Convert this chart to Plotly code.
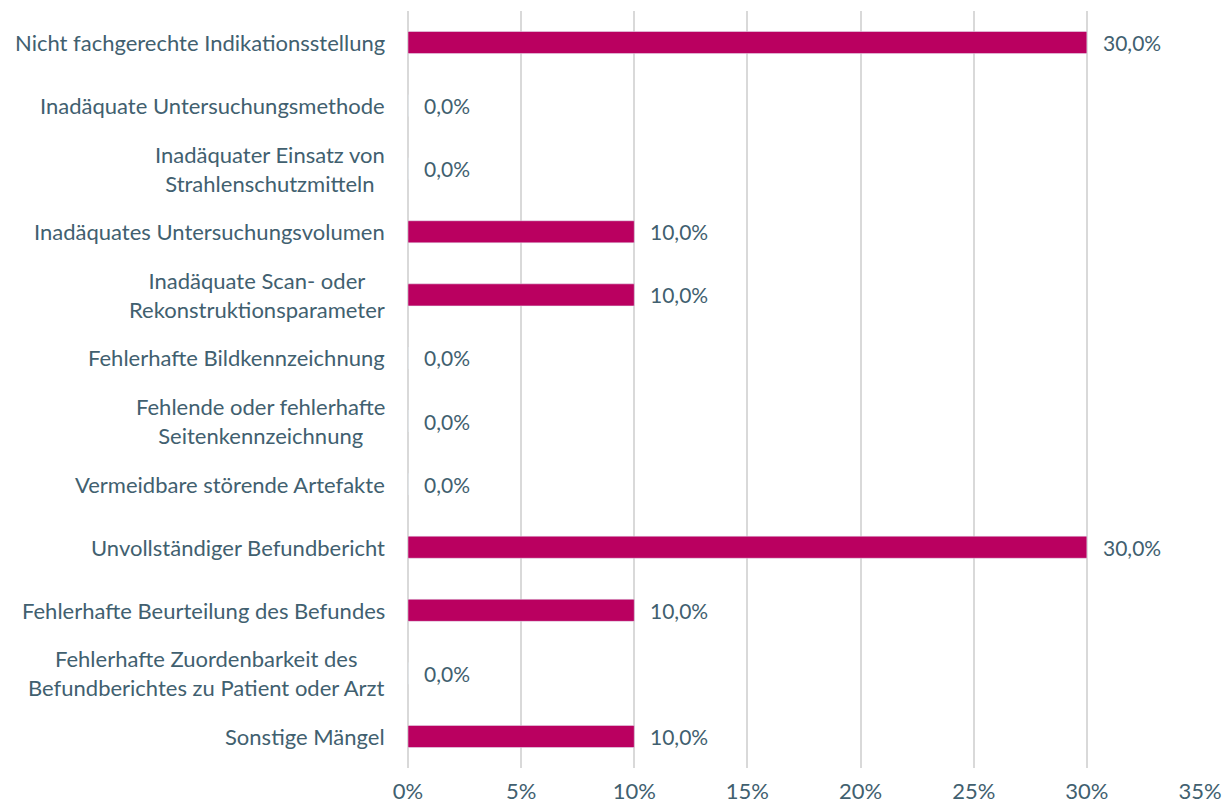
import plotly.graph_objects as go

categories = [
    "Nicht fachgerechte Indikationsstellung",
    "Inadäquate Untersuchungsmethode",
    "Inadäquater Einsatz von<br>Strahlenschutzmitteln",
    "Inadäquates Untersuchungsvolumen",
    "Inadäquate Scan- oder<br>Rekonstruktionsparameter",
    "Fehlerhafte Bildkennzeichnung",
    "Fehlende oder fehlerhafte<br>Seitenkennzeichnung",
    "Vermeidbare störende Artefakte",
    "Unvollständiger Befundbericht",
    "Fehlerhafte Beurteilung des Befundes",
    "Fehlerhafte Zuordenbarkeit des<br>Befundberichtes zu Patient oder Arzt",
    "Sonstige Mängel",
]
values = [30.0, 0.0, 0.0, 10.0, 10.0, 0.0, 0.0, 0.0, 30.0, 10.0, 0.0, 10.0]
tick_values = [0, 5, 10, 15, 20, 25, 30, 35]
tick_labels = [f"{t}%" for t in tick_values]

BAR_COLOR = "#BA0060"
TEXT_COLOR = "#41606F"
GRID_COLOR = "#D9D9D9"
FONT = "Lato"
FONT_SIZE = 22

fig = go.Figure()

fig.add_trace(go.Bar(
    x=values,
    y=list(range(len(categories))),
    orientation="h",
    width=0.35,
    marker_color=BAR_COLOR,
    hoverinfo="skip",
))

# value labels right of each bar
for i, v in enumerate(values):
    fig.add_annotation(
        x=v, y=i, xref="x", yref="y",
        text=f"{v:.1f}".replace(".", ",") + "%",
        showarrow=False, xanchor="left", xshift=14,
        font=dict(family=FONT, size=FONT_SIZE - 1, color=TEXT_COLOR),
    )

# category labels, centred lines like the original
for i, c in enumerate(categories):
    fig.add_annotation(
        x=0, y=i, xref="paper", yref="y",
        text=c, showarrow=False, xanchor="right", xshift=-21,
        align="center",
        font=dict(family=FONT, size=FONT_SIZE, color=TEXT_COLOR),
    )

# the page body adds 8px around the figure, so size it to fit the window
fig.update_layout(
    width=1215,
    height=796,
    margin=dict(l=400, r=23, t=3, b=36),
    plot_bgcolor="white",
    paper_bgcolor="white",
    showlegend=False,
    font=dict(family=FONT, size=FONT_SIZE, color=TEXT_COLOR),
    xaxis=dict(
        range=[0, 35],
        tickvals=tick_values,
        ticktext=tick_labels,
        showgrid=True,
        gridcolor=GRID_COLOR,
        gridwidth=2,
        zeroline=True,
        zerolinecolor=GRID_COLOR,
        zerolinewidth=2,
        showline=False,
        automargin=False,
        ticklabelstandoff=8,
        tickfont=dict(family=FONT, size=FONT_SIZE, color=TEXT_COLOR),
        fixedrange=True,
    ),
    yaxis=dict(
        range=[len(categories) - 0.5, -0.5],
        showticklabels=False,
        showgrid=False,
        zeroline=False,
        showline=False,
        fixedrange=True,
    ),
)

fig.write_html("out.html")
